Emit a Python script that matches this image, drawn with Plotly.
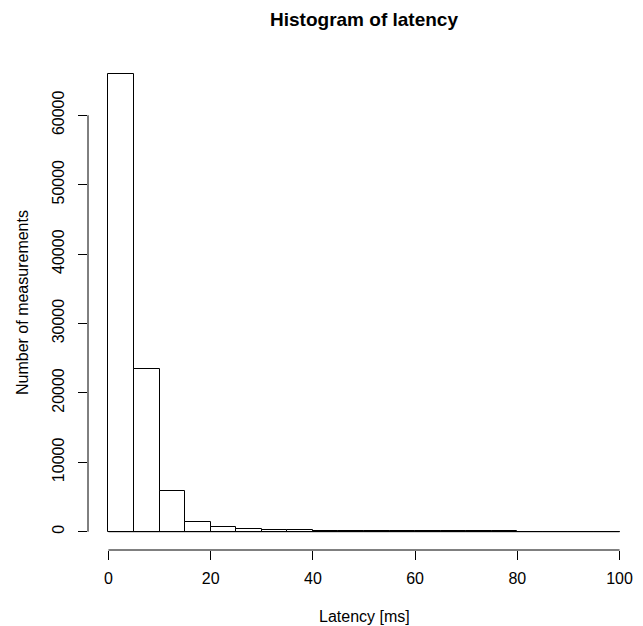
import plotly.graph_objects as go

bin_edges = [0, 5, 10, 15, 20, 25, 30, 35, 40, 45, 50, 55, 60, 65, 70, 75, 80, 85, 90, 95, 100]
counts = [65900, 23420, 5930, 1340, 690, 390, 250, 190, 150, 120, 95, 80, 65, 50, 40, 32, 26, 20, 15, 10]
x_ticks = [0, 20, 40, 60, 80, 100]
y_ticks = [0, 10000, 20000, 30000, 40000, 50000, 60000]

centers = [(a + b) / 2 for a, b in zip(bin_edges[:-1], bin_edges[1:])]
widths = [b - a for a, b in zip(bin_edges[:-1], bin_edges[1:])]
M = max(counts)
W, H = 643, 626
L, R, T, B = 88, 3, 56, 76
font = dict(family="Liberation Sans, Arial, sans-serif", size=16, color="black")

fig = go.Figure(go.Bar(
    x=centers, y=counts, width=widths,
    marker=dict(color="white", line=dict(color="black", width=1)),
))

fig.update_layout(
    width=W, height=H,
    margin=dict(l=L, r=R, t=T, b=B, autoexpand=False),
    paper_bgcolor="white", plot_bgcolor="white",
    font=font, showlegend=False,
    title=dict(text="<b>Histogram of latency</b>", x=(L + W - R) / 2 / W, xanchor="center",
               y=1 - 19 / H, yanchor="middle", font=dict(size=19, family=font["family"], color="black")),
    bargap=0,
)
span = bin_edges[-1] - bin_edges[0]
fig.update_xaxes(
    range=[bin_edges[0] - 0.04 * span, bin_edges[-1] + 0.04 * span],
    tickvals=x_ticks, ticktext=[str(v) for v in x_ticks],
    ticks="outside", ticklen=9, tickcolor="black", tickwidth=1,
    showgrid=False, zeroline=False, showline=False, automargin=False,
    ticklabelstandoff=5,
)
fig.update_yaxes(
    range=[-0.04 * M, 1.04 * M],
    tickvals=y_ticks, ticktext=[str(v) for v in y_ticks], tickangle=-90,
    ticks="outside", ticklen=9, tickcolor="black", tickwidth=1,
    showgrid=False, zeroline=False, showline=False, automargin=False,
    ticklabelstandoff=8,
)
# axis lines spanning tick range (R style)
fig.add_shape(type="line", xref="x", yref="paper", x0=x_ticks[0], x1=x_ticks[-1], y0=0, y1=0,
              line=dict(color="black", width=1))
fig.add_shape(type="line", xref="paper", yref="y", x0=0, x1=0, y0=y_ticks[0], y1=y_ticks[-1],
              line=dict(color="black", width=1))
# bottom edges of the bars (tiny bars are otherwise dropped)
fig.add_shape(type="line", xref="x", yref="y", x0=bin_edges[0], x1=bin_edges[-1], y0=0, y1=0,
              line=dict(color="black", width=1))

fig.add_annotation(text="Latency [ms]", xref="paper", yref="paper",
                   x=0.5, y=-(616 - (H - B)) / (H - T - B), xanchor="center", yanchor="middle",
                   showarrow=False, font=font)
fig.add_annotation(text="Number of measurements", xref="paper", yref="paper",
                   x=-(L - 22) / (W - L - R), y=0.5, xanchor="center", yanchor="middle",
                   textangle=-90, showarrow=False, font=font)

fig.write_html("out.html", config={"displayModeBar": False},
               post_script="document.body.style.margin='0px';")
